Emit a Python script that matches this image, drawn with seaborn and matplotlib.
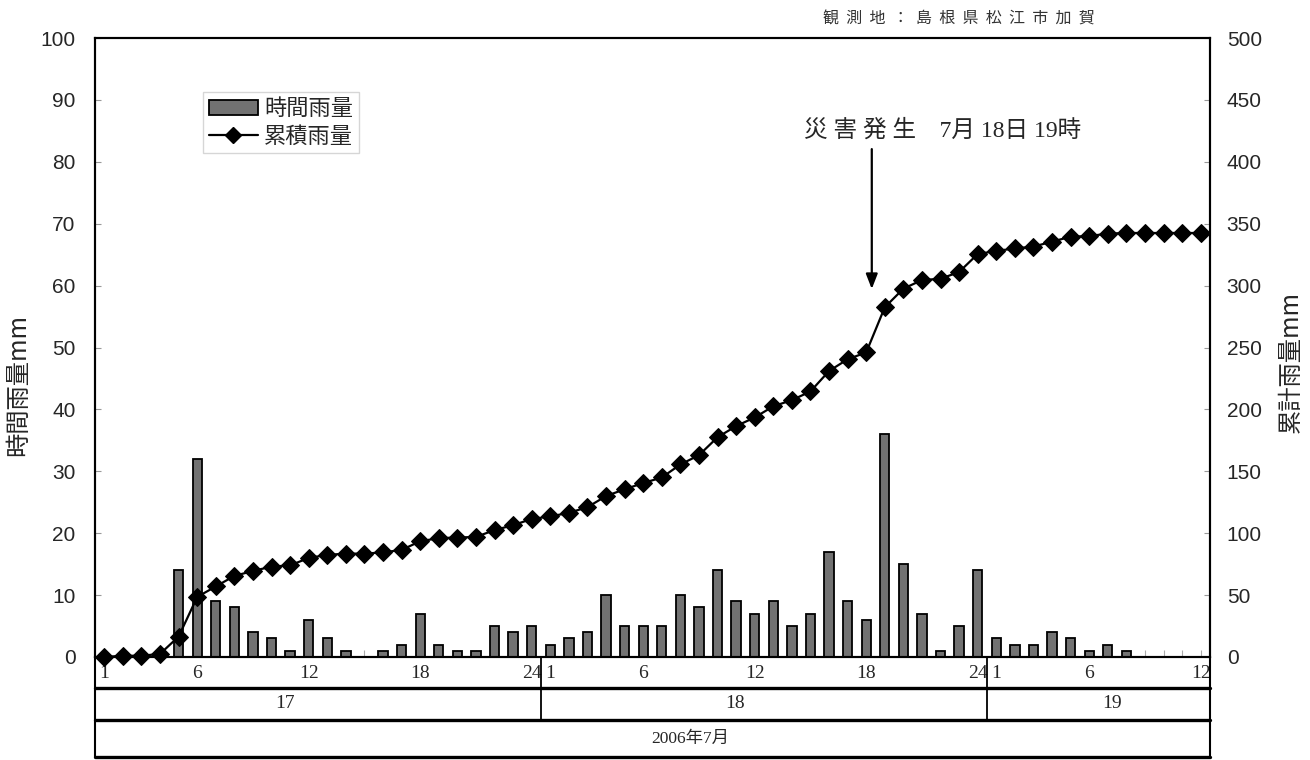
import numpy as np
import pandas as pd
import matplotlib.pyplot as plt
import seaborn as sns
from matplotlib.patches import Patch
from matplotlib.lines import Line2D
import matplotlib.transforms as mtransforms

# hourly / cumulative rainfall, Kaga (Matsue), 17-19 July 2006
days = ['17', '18', '19']
hours_per_day = [24, 24, 12]
hour_labels = [1, 6, 12, 18, 24]

hourly = [0, 0, 0, 0, 14, 32, 9, 8, 4, 3, 1, 6, 3, 1, 0, 1, 2, 7, 2, 1, 1, 5, 4, 5,
          2, 3, 4, 10, 5, 5, 5, 10, 8, 14, 9, 7, 9, 5, 7, 17, 9, 6, 36, 15, 7, 1, 5, 14,
          3, 2, 2, 4, 3, 1, 2, 1, 0, 0, 0, 0]

cumulative = [0, 1, 1, 2.5, 16.5, 48.5, 57, 65.5, 69.5, 73, 74, 80, 82.5, 83.5, 83.5, 84.5,
              86.5, 93.5, 96, 96.5, 97, 102.5, 106.5, 111.5,
              113.5, 116.5, 121, 130, 135.5, 140.5, 145, 155.5, 163, 177.5, 186.5, 193.5,
              202.5, 207.5, 214.5, 231, 240.5, 246, 282.5, 297.5, 304.5, 305.5, 311, 325.5,
              328, 330, 331.5, 335.5, 339.5, 340, 342, 342.5, 342.5, 342.5, 342.5, 342.5]

hour_of_day = [h for n in hours_per_day for h in range(1, n + 1)]
df = pd.DataFrame({'pos': range(len(hourly)), 'hour': hour_of_day,
                   'hourly': hourly, 'cumulative': cumulative})

sns.set_style('white')
plt.rcParams['font.family'] = ['Liberation Sans', 'Noto Sans CJK JP']
cjk = ['Noto Sans CJK JP', 'DejaVu Sans']
serif = ['Liberation Serif', 'Noto Sans CJK JP']

fig = plt.figure(figsize=(13.1, 7.6), dpi=100)
ax = fig.add_axes([95 / 1310, 1 - 657 / 760, 1115 / 1310, 619 / 760])

sns.barplot(data=df, x='pos', y='hourly', ax=ax, color='#727272', saturation=1,
            edgecolor='black', linewidth=1.3, width=0.5)

ax2 = ax.twinx()
sns.lineplot(data=df, x='pos', y='cumulative', ax=ax2, color='black', linewidth=1.6,
             marker='D', markersize=9, markeredgecolor='black', clip_on=False)

ax.set_xlim(-0.5, len(hourly) - 0.5)
ax.set_ylim(0, 100)
ax2.set_ylim(0, 500)
ax.set_yticks(np.arange(0, 101, 10))
ax2.set_yticks(np.arange(0, 501, 50))
ax.set_xlabel('')
ax.set_ylabel('')
ax2.set_ylabel('')
ax2.set_xlabel('')

# x ticks: every hour, label only 1/6/12/18/24
ax.set_xticks(df['pos'])
ax.set_xticklabels([str(h) if h in hour_labels or h == hours_per_day[-1] else ''
                    for h in df['hour']], fontfamily=serif, fontsize=14)
ax.tick_params(axis='x', bottom=True, direction='in', length=5, color='#aaaaaa', pad=6)
ax.tick_params(axis='y', left=True, direction='in', length=4, color='#999999',
               labelsize=15, pad=14)
ax2.tick_params(axis='y', right=True, direction='in', length=4, color='#999999',
                labelsize=15, pad=12)
for a in (ax, ax2):
    for s in a.spines.values():
        s.set_color('black')
        s.set_linewidth(1.5)

# category table under the axis
trans = mtransforms.blended_transform_factory(ax.transData, ax.transAxes)
row1, row2, row3 = -31 / 619, -63 / 619, -100 / 619
for yy in (row1, row2, row3):
    ax.plot([0, 1], [yy, yy], transform=ax.transAxes, color='black', lw=2.4, clip_on=False)
for xx in (0, 1):
    ax.plot([xx, xx], [0, row3], transform=ax.transAxes, color='black', lw=1.5, clip_on=False)
edge = -0.5
for n in hours_per_day[:-1]:
    edge += n
    ax.plot([edge, edge], [0, row2], transform=trans, color='black', lw=1.3, clip_on=False)
for d, xf in zip(days, [0.170, 0.574, 0.912]):
    ax.text(xf, (row1 + row2) / 2, d, transform=ax.transAxes, ha='center', va='center',
            fontfamily=serif, fontsize=14)
ax.text(0.534, (row2 + row3) / 2, '2006年7月', transform=ax.transAxes, ha='center',
        va='center', fontfamily=serif, fontsize=12.5)

# disaster annotation
ax.annotate('', xy=(41.3, 59), xytext=(41.3, 82.5),
            arrowprops=dict(arrowstyle='-|>,head_width=0.35,head_length=0.9',
                            color='black', lw=1.6))
ax.text(45.1, 85.1, '災 害 発 生    7月 18日 19時', ha='center', va='center',
        fontfamily=serif, fontsize=17)

# legend
handles = [Patch(facecolor='#727272', edgecolor='black', linewidth=1.3),
           Line2D([], [], color='black', lw=1.6, marker='D', markersize=8)]
leg = ax2.legend(handles, ['時間雨量', '累積雨量'], loc='upper left',
                 bbox_to_anchor=(0.097, 0.913), frameon=True, fancybox=False,
                 edgecolor='#cccccc', prop={'family': cjk, 'size': 16},
                 handlelength=2.2, handletextpad=0.3, borderpad=0.25, labelspacing=0.2,
                 borderaxespad=0)

fig.text(18 / 1310, 1 - 385 / 760, '時間雨量mm', rotation=90, ha='center', va='center',
         fontfamily=cjk, fontsize=17.5)
fig.text(1291 / 1310, 1 - 362 / 760, '累計雨量mm', rotation=90, ha='center', va='center',
         fontfamily=cjk, fontsize=17.5)
fig.text(959 / 1310, 1 - 19 / 760, '観  測  地  ：  島  根  県  松  江  市  加  賀', ha='center',
         va='center', fontfamily=cjk, fontsize=11.5, color='#333333')

fig.savefig('out.png', dpi=100)
